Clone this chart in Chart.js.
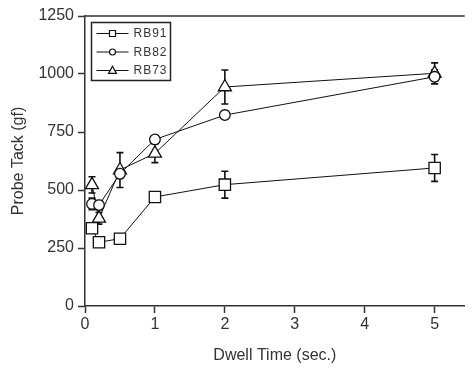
<!DOCTYPE html>
<html>
<head>
<meta charset="utf-8">
<script src="https://cdn.jsdelivr.net/npm/chart.js@4.4.0/dist/chart.umd.min.js"></script>
<style>
  html, body { margin: 0; padding: 0; background: #fff; }
  #wrap { width: 474px; height: 368px; }
</style>
</head>
<body>
<div id="wrap"><canvas id="c" width="474" height="368"></canvas></div>
<script>
// ---- data ----
const dwellTimes = [0.1, 0.2, 0.5, 1, 2, 5];
const seriesNames = ['RB91', 'RB82', 'RB73'];
const rb91 = [335, 275, 290, 470, 523, 595];
const rb91Err = [15, 0, 8, 15, 58, 58];
const rb82 = [440, 435, 570, 718, 823, 988];
const rb82Err = [25, 20, 20, 15, 12, 30];
const rb73 = [522, 378, 586, 658, 944, 1003];
const rb73Err = [35, 25, 75, 40, 73, 45];
const xTicks = [0, 1, 2, 3, 4, 5];
const yTicks = [0, 250, 500, 750, 1000, 1250];

const FONT = '"Liberation Sans", Arial, Helvetica, sans-serif';
const INK = '#111';
const TXT = '#333';

function pts(vals) { return dwellTimes.map((x, i) => ({ x: x, y: vals[i] })); }

const styles = [
  { pointStyle: 'rect', pointRadius: 8 },
  { pointStyle: 'circle', pointRadius: 5.3 },
  { pointStyle: 'triangle', pointRadius: 7.5 }
];
const errs = [rb91Err, rb82Err, rb73Err];

const datasets = [rb91, rb82, rb73].map((vals, i) => ({
  label: seriesNames[i],
  data: pts(vals),
  borderColor: INK,
  borderWidth: 1,
  backgroundColor: '#fff',
  pointStyle: styles[i].pointStyle,
  pointRadius: styles[i].pointRadius,
  pointBorderWidth: 1.3,
  pointBorderColor: INK,
  pointBackgroundColor: '#fff',
  tension: 0,
  errors: errs[i]
}));

const errorBars = {
  id: 'errorBars',
  beforeDatasetsDraw(chart) {
    const ctx = chart.ctx;
    const xs = chart.scales.x, ys = chart.scales.y;
    ctx.save();
    ctx.strokeStyle = INK;
    ctx.lineWidth = 1.6;
    chart.data.datasets.forEach((ds) => {
      ds.data.forEach((p, j) => {
        const e = ds.errors[j];
        if (!e) return;
        const px = xs.getPixelForValue(p.x);
        const y1 = ys.getPixelForValue(p.y + e);
        const y2 = ys.getPixelForValue(p.y - e);
        ctx.beginPath();
        ctx.moveTo(px, y1); ctx.lineTo(px, y2);
        ctx.moveTo(px - 3.5, y1); ctx.lineTo(px + 3.5, y1);
        ctx.moveTo(px - 3.5, y2); ctx.lineTo(px + 3.5, y2);
        ctx.stroke();
      });
    });
    ctx.restore();
  }
};

function drawMarker(ctx, style, x, y, r) {
  ctx.beginPath();
  if (style === 'rect') {
    ctx.rect(x - r, y - r, 2 * r, 2 * r);
  } else if (style === 'circle') {
    ctx.arc(x, y, r, 0, Math.PI * 2);
  } else {
    ctx.moveTo(x, y - r * 1.2);
    ctx.lineTo(x + r * 1.1, y + r * 0.8);
    ctx.lineTo(x - r * 1.1, y + r * 0.8);
    ctx.closePath();
  }
  ctx.fillStyle = '#fff';
  ctx.fill();
  ctx.stroke();
}

const frameAndLegend = {
  id: 'frameAndLegend',
  afterDraw(chart) {
    const ctx = chart.ctx;
    const a = chart.chartArea;
    ctx.save();
    ctx.strokeStyle = '#333';
    ctx.lineWidth = 1.5;
    ctx.beginPath();
    ctx.moveTo(a.left, a.top);
    ctx.lineTo(a.right, a.top);
    ctx.stroke();
    const bx = a.left + 6.5, by = a.top + 6.5, bw = 79, bh = 58;
    ctx.strokeStyle = '#222';
    ctx.lineWidth = 1.5;
    ctx.strokeRect(bx, by, bw, bh);
    const rows = [11, 29.5, 48];
    ctx.font = '12px ' + FONT;
    ctx.textBaseline = 'middle';
    ctx.fillStyle = TXT;
    try { ctx.letterSpacing = '1px'; } catch (e) {}
    chart.data.datasets.forEach((ds, i) => {
      const y = by + rows[i];
      ctx.strokeStyle = INK;
      ctx.lineWidth = 1.2;
      ctx.beginPath();
      ctx.moveTo(bx + 5, y); ctx.lineTo(bx + 37, y);
      ctx.stroke();
      drawMarker(ctx, ds.pointStyle, bx + 21, y, ds.pointStyle === 'triangle' ? 3.6 : 3);
      ctx.fillStyle = TXT;
      ctx.fillText(ds.label, bx + 42, y + 0.5);
    });
    ctx.restore();
  }
};

new Chart(document.getElementById('c'), {
  type: 'line',
  data: { datasets: datasets },
  options: {
    responsive: false,
    animation: false,
    events: [],
    layout: { padding: { top: 16, left: 0, right: 0, bottom: 0 } },
    plugins: { legend: { display: false }, tooltip: { enabled: false } },
    scales: {
      x: {
        type: 'linear',
        min: 0,
        max: 5.43,
        afterFit(s) { s.height = 62; },
        afterBuildTicks(s) { s.ticks = xTicks.map(v => ({ value: v })); },
        grid: { drawOnChartArea: false, drawTicks: true, tickLength: 7, tickColor: '#333', tickWidth: 1.5 },
        border: { display: true, color: '#333', width: 1.5 },
        ticks: { color: TXT, font: { family: FONT, size: 16 }, padding: 2, maxRotation: 0, callback: v => String(v) },
        title: { display: true, text: 'Dwell Time (sec.)', color: TXT, font: { family: FONT, size: 16 }, padding: { top: 0, bottom: 3 } }
      },
      y: {
        type: 'linear',
        min: 0,
        max: 1250,
        afterFit(s) { s.width = 85; },
        afterBuildTicks(s) { s.ticks = yTicks.map(v => ({ value: v })); },
        grid: { drawOnChartArea: false, drawTicks: true, tickLength: 7, tickColor: '#333', tickWidth: 1.5 },
        border: { display: true, color: '#333', width: 1.5 },
        ticks: { color: TXT, font: { family: FONT, size: 16 }, padding: 4, callback: v => String(v) },
        title: { display: true, text: 'Probe Tack (gf)', color: TXT, font: { family: FONT, size: 16 }, padding: { top: 9, bottom: 0 } }
      }
    }
  },
  plugins: [errorBars, frameAndLegend]
});
</script>
</body>
</html>
